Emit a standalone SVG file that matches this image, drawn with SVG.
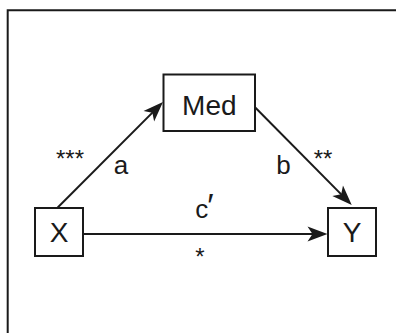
<svg xmlns="http://www.w3.org/2000/svg" width="396" height="333" viewBox="0 0 396 333">
  <style>
    .box { fill: #fff; stroke: #1a1a1a; stroke-width: 2; }
    .edge { fill: none; stroke: #1a1a1a; stroke-width: 2; }
    .frame { fill: none; stroke: #1a1a1a; stroke-width: 2; }
    text { font-family: "Liberation Sans", Arial, Helvetica, sans-serif; fill: #1a1a1a; }
    .node { font-size: 28px; text-anchor: middle; }
    .lab { font-size: 26px; text-anchor: middle; }
    .sig { font-size: 24px; text-anchor: middle; }
  </style>
  <defs>
    <marker id="arr" markerUnits="userSpaceOnUse" markerWidth="26" markerHeight="20" viewBox="-24 -10 26 20" refX="-10" refY="0" orient="auto" overflow="visible">
      <path d="M0,0 L-20,-7.5 L-15,0 L-20,7.5 Z" fill="#1a1a1a"/>
    </marker>
  </defs>
  <rect width="396" height="333" fill="#fff"/>
  <!-- outer frame, open to the right and bottom -->
  <path class="frame" d="M7.7,333 V10.3 H396"/>

  <g id="connectors">
    <line class="edge" x1="57.7" y1="207.5" x2="155.9" y2="109.1" marker-end="url(#arr)"/>
    <line class="edge" x1="255" y1="107.3" x2="344.7" y2="197.9" marker-end="url(#arr)"/>
    <line class="edge" x1="83" y1="234" x2="317.5" y2="234" marker-end="url(#arr)"/>
    <text class="sig" x="70" y="167">***</text>
    <text class="lab" x="121" y="174">a</text>
    <text class="lab" x="283.5" y="174">b</text>
    <text class="sig" x="323" y="167">**</text>
    <text class="lab" x="204.5" y="218">c<tspan dx="-1" dy="-1" font-size="34">′</tspan></text>
    <text class="sig" x="200" y="265">*</text>
  </g>

  <g id="med">
    <rect class="box" x="163.5" y="74.5" width="91.5" height="56.5"/>
    <text class="node" x="209.3" y="115">Med</text>
  </g>
  <g id="x">
    <rect class="box" x="35" y="208" width="48" height="48"/>
    <text class="node" x="59" y="242">X</text>
  </g>
  <g id="y">
    <rect class="box" x="328" y="208" width="48" height="48"/>
    <text class="node" x="352" y="242">Y</text>
  </g>
</svg>
